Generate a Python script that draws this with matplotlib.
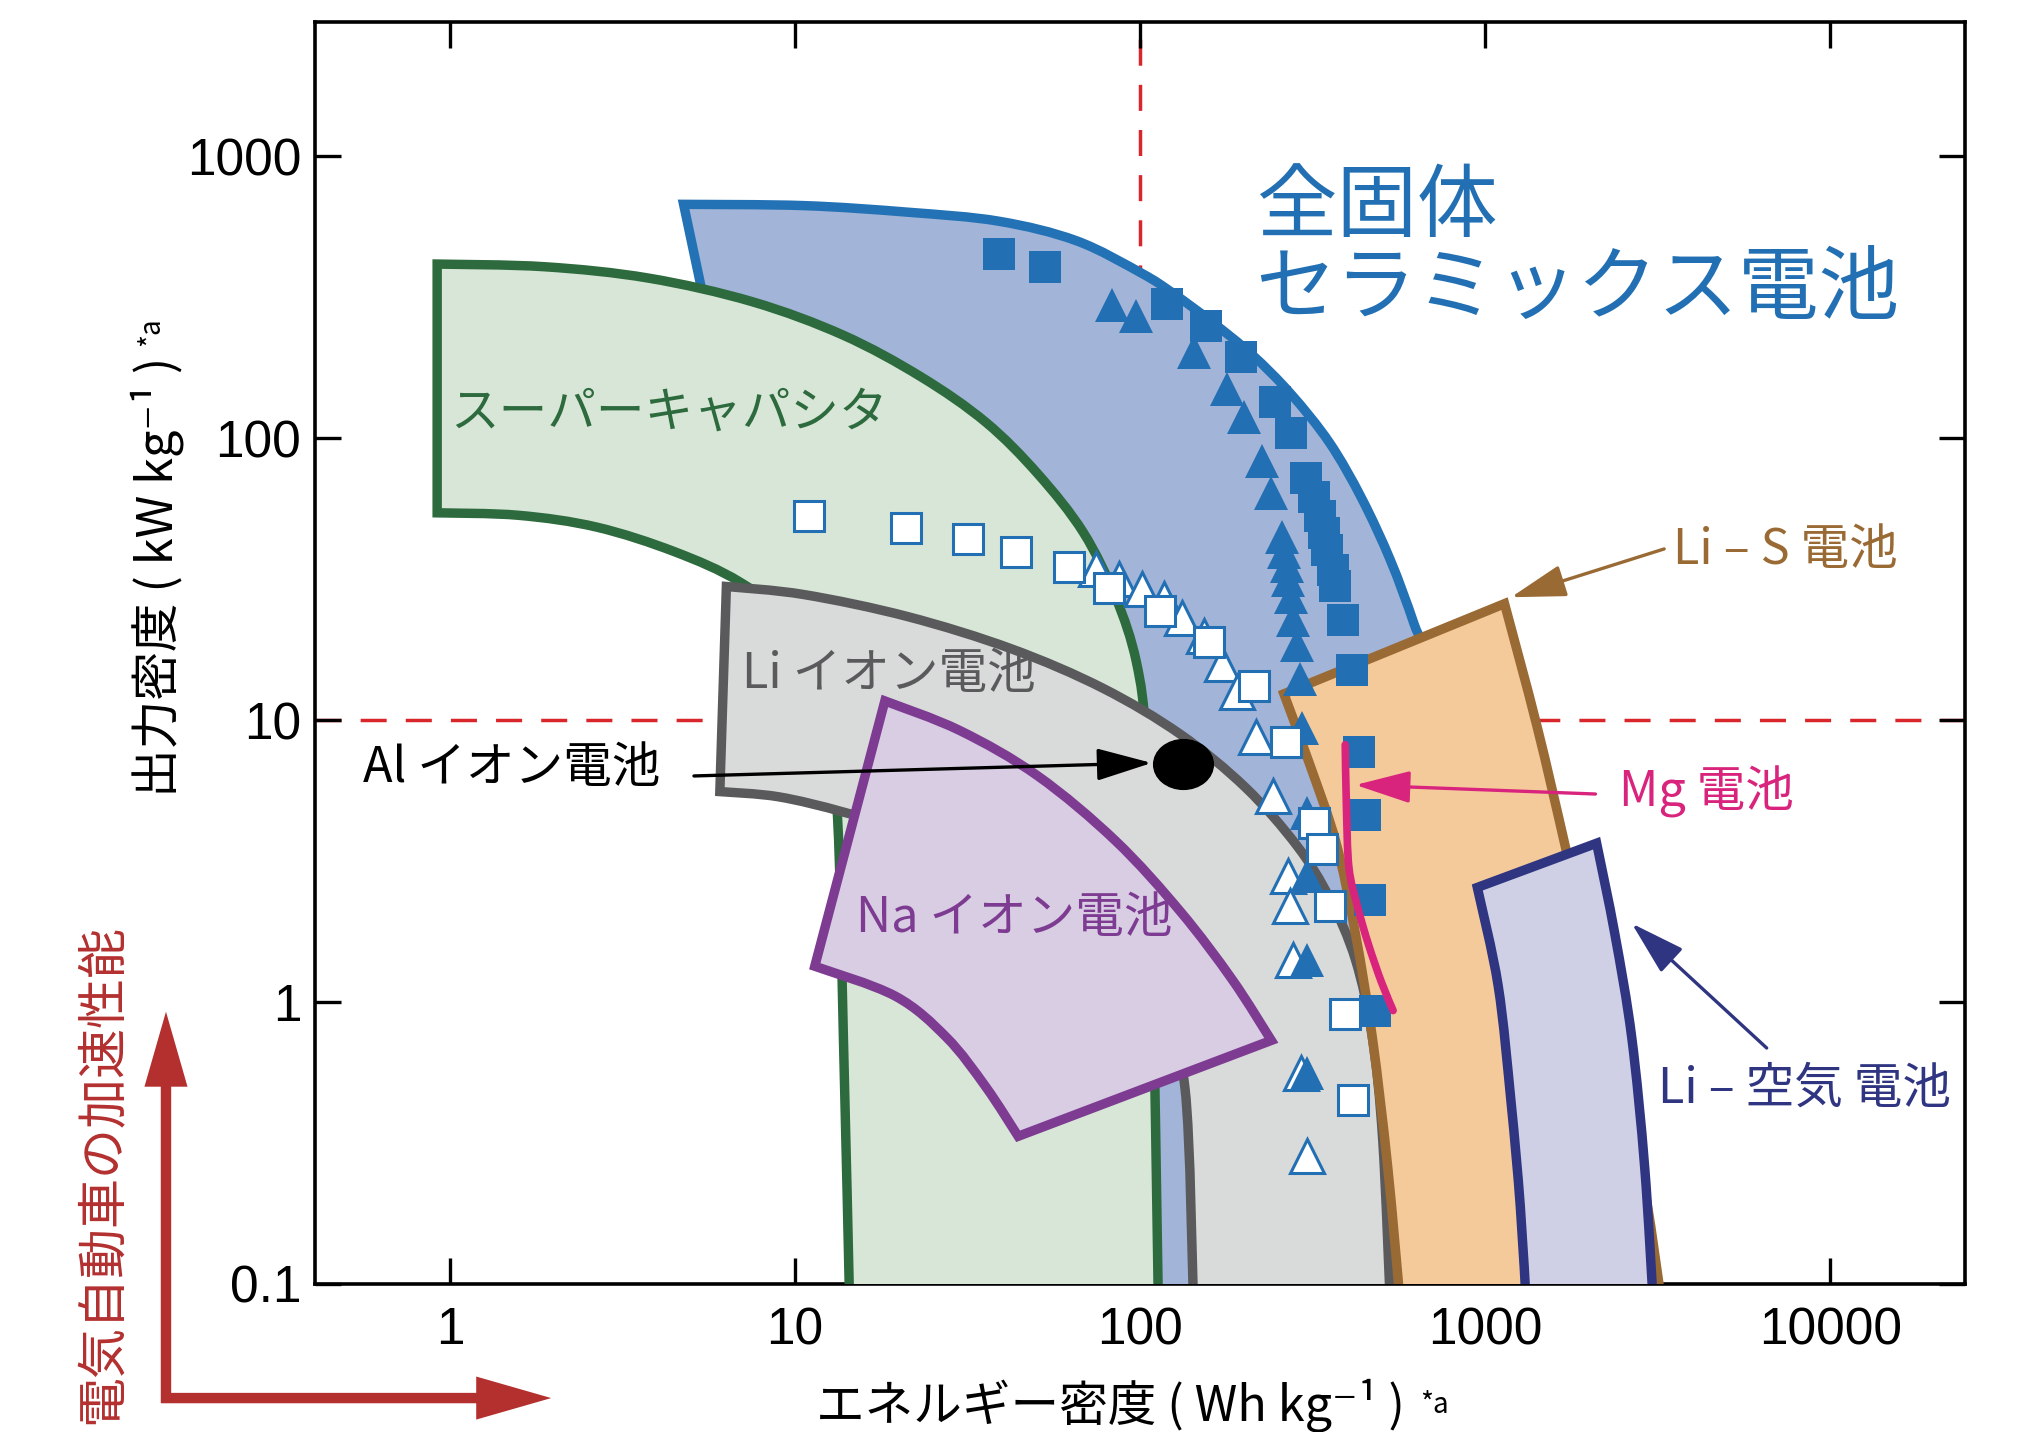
import numpy as np
import matplotlib.pyplot as plt
from matplotlib.ticker import NullLocator
from matplotlib.path import Path
from matplotlib.transforms import Affine2D
from matplotlib.patches import FancyArrowPatch, PathPatch

plt.rcParams['font.family'] = ['Noto Sans CJK JP', 'DejaVu Sans']

# Region outlines (energy density Wh/kg, power density kW/kg).
# Each region: an outer edge and an inner edge, joined by straight sides.
supercap_outer_x = [0.917, 1.88, 3.76, 7.52, 13.8, 23.2, 35.7, 50.5, 68.4, 84.9, 97.5, 104, 108, 113]
supercap_outer_y = [415, 406, 370, 305, 232, 165, 114, 74.8, 46.4, 27.3, 16.1, 8.53, 2.15, 0.08]
supercap_inner_x = [14.4, 13.8, 13.2, 11.8, 9.74, 6.89, 4.47, 2.66, 1.58, 0.917]
supercap_inner_y = [0.08, 0.748, 5.03, 13.0, 22.1, 31.0, 39.6, 48.4, 53.3, 54.4]

ceramic_outer_x = [4.75, 10.6, 21.2, 38.9, 65.4, 101, 125, 162, 211, 273, 354, 439, 532, 621, 689, 771, 841]
ceramic_outer_y = [676, 669, 634, 589, 502, 385, 326, 258, 198, 144, 96.4, 61.1, 36.8, 22.1, 14.5, 3.66, 0.08]
ceramic_inner_x = [105, 92.5, 74.5, 52.7, 32.7, 17.9, 8.93, 5.41]
ceramic_inner_y = [0.08, 2.15, 11.7, 33.8, 78.8, 165, 253, 319]

liion_outer_x = [6.32, 10.6, 21.2, 42.4, 77.8, 131, 202, 285, 354, 421, 471, 505, 532]
liion_outer_y = [29.8, 27.9, 23.3, 17.9, 13.0, 8.90, 5.77, 3.58, 2.34, 1.41, 0.748, 0.321, 0.08]
liion_inner_x = [143, 135, 115, 77.8, 42.4, 21.2, 13.8, 8.93, 6.05]
liion_inner_y = [0.08, 0.49, 0.831, 1.57, 2.66, 3.98, 4.72, 5.35, 5.58]

naion_outer_x = [18.2, 30.0, 50.5, 84.9, 131, 185, 240]
naion_outer_y = [11.7, 9.19, 6.34, 3.73, 2.09, 1.20, 0.731]
naion_inner_x = [44.3, 35.7, 27.5, 19.5, 11.4]
naion_inner_y = [0.334, 0.500, 0.748, 1.05, 1.34]

lis_outer_x = [1138, 1414, 1726, 2276, 2825, 3274]
lis_outer_y = [25.9, 9.49, 3.36, 0.748, 0.259, 0.08]
lis_inner_x = [570, 522, 471, 421, 370, 311, 261]
lis_inner_y = [0.08, 0.259, 0.748, 1.74, 3.66, 6.90, 12.4]

liair_outer_x = [2104, 2377, 2660, 2900, 3080]
liair_outer_y = [3.66, 1.74, 0.748, 0.259, 0.08]
liair_inner_x = [1319, 1264, 1189, 1091, 949]
liair_inner_y = [0.08, 0.189, 0.440, 1.14, 2.55]

mg_x = [393, 396, 403, 428, 459, 500, 541]
mg_y = [8.18, 5.03, 2.99, 2.15, 1.60, 1.18, 0.933]

# data points
ceramic_sq_x = [39, 53, 120, 155, 196, 246, 273, 303, 319, 333, 342, 348, 363, 366, 386, 410, 432, 447, 463, 479]
ceramic_sq_y = [450, 405, 300, 250, 194, 135, 104, 72, 62, 53, 46, 40, 34, 30, 22.6, 15.1, 7.7, 4.6, 2.3, 0.93]

ceramic_tri_x = [83, 97, 143, 179, 200, 226, 240, 257, 261, 266, 268, 273, 278, 285, 290, 295, 305, 305, 305, 305]
ceramic_tri_y = [296, 272, 202, 150, 119, 83, 64, 44.5, 39.6, 35.3, 31.4, 27.3, 22.6, 18.5, 14.0, 9.4, 4.7, 2.8, 1.41, 0.56]

liion_sq_x = [11, 21, 31.6, 43.6, 62, 81, 114, 158, 214, 264, 319, 336, 354, 393, 414]
liion_sq_y = [53, 48, 44, 39.6, 35, 29.4, 24.3, 18.9, 13.2, 8.4, 4.3, 3.5, 2.2, 0.91, 0.45]

liion_tri_x = [74.5, 87, 101, 117, 132, 153, 173, 191, 216, 242, 268, 271, 278, 293, 305]
liion_tri_y = [34.5, 31.7, 29.1, 26.8, 23.1, 19.9, 15.8, 12.6, 8.7, 5.4, 2.8, 2.2, 1.41, 0.56, 0.285]

al_x = [133]
al_y = [7.0]

ref_energy = 100
ref_power = 10

xticks = [1, 10, 100, 1000, 10000]
xtick_labels = ['1', '10', '100', '1000', '10000']
yticks = [0.1, 1, 10, 100, 1000]
ytick_labels = ['0.1', '1', '10', '100', '1000']

blue = '#2270b3'
red = '#b3302f'


def smooth(xs, ys):
    # bezier segments through the read points, worked out in log space
    p = np.log10(np.column_stack([xs, ys]))
    n = len(p)
    verts = []
    for i in range(n - 1):
        p0, p1, p2, p3 = p[max(i - 1, 0)], p[i], p[i + 1], p[min(i + 2, n - 1)]
        verts += [p1 + (p2 - p0) / 6, p2 - (p3 - p1) / 6, p2]
    return verts, [Path.CURVE4] * len(verts)


def region(ax, ox, oy, ix, iy, **kw):
    v1, c1 = smooth(ox, oy)
    v2, c2 = smooth(ix, iy)
    start = np.log10([ox[0], oy[0]])
    verts = [start] + v1 + [np.log10([ix[0], iy[0]])] + v2 + [start]
    codes = [Path.MOVETO] + c1 + [Path.LINETO] + c2 + [Path.CLOSEPOLY]
    ax.add_patch(PathPatch(Path(10 ** np.array(verts), codes), joinstyle='miter', **kw))


fig = plt.figure(figsize=(20.34, 14.32), dpi=100)
ax = fig.add_axes([0.1549, 0.1034, 0.8112, 0.8813])
ax.set_xscale('log')
ax.set_yscale('log')
ax.set_xlim(0.406, 24600)
ax.set_ylim(0.1, 3000)

# reference lines
dash = (0, (7.5, 5.5))
ax.axvline(ref_energy, color='#d9262b', lw=2.5, ls=dash, zorder=1)
ax.axhline(ref_power, color='#d9262b', lw=2.5, ls=dash, zorder=1)

# regions
elw = 6.8
region(ax, ceramic_outer_x, ceramic_outer_y, ceramic_inner_x, ceramic_inner_y,
       facecolor='#a2b4d8', edgecolor='#2372b5', lw=elw, zorder=3)
region(ax, supercap_outer_x, supercap_outer_y, supercap_inner_x, supercap_inner_y,
       facecolor='#d7e6d6', edgecolor='#2d6a3d', lw=elw, zorder=4)
region(ax, liion_outer_x, liion_outer_y, liion_inner_x, liion_inner_y,
       facecolor='#d9dada', edgecolor='#5a5a5c', lw=elw, zorder=5)
region(ax, naion_outer_x, naion_outer_y, naion_inner_x, naion_inner_y,
       facecolor='#d8cde3', edgecolor='#7d3c92', lw=elw, zorder=6)
region(ax, lis_outer_x, lis_outer_y, lis_inner_x, lis_inner_y,
       facecolor='#f4ca9a', edgecolor='#9a6a34', lw=elw, zorder=7)
region(ax, liair_outer_x, liair_outer_y, liair_inner_x, liair_inner_y,
       facecolor='#cfd0e6', edgecolor='#2f3581', lw=elw, zorder=8)

# points
ax.plot(liion_tri_x, liion_tri_y, ls='none', marker='^', ms=24, mfc='white', mec=blue, mew=2.2, zorder=10)
ax.plot(ceramic_tri_x, ceramic_tri_y, ls='none', marker='^', ms=24, color=blue, mew=0, zorder=11)
ax.plot(liion_sq_x, liion_sq_y, ls='none', marker='s', ms=22, mfc='white', mec=blue, mew=2.2, zorder=12)
ax.plot(ceramic_sq_x, ceramic_sq_y, ls='none', marker='s', ms=23, color=blue, mew=0, zorder=13)

mv, mc = smooth(mg_x, mg_y)
mg_path = Path(10 ** np.array([np.log10([mg_x[0], mg_y[0]])] + mv), [Path.MOVETO] + mc)
ax.add_patch(PathPatch(mg_path, fill=False, edgecolor='#d9247d', lw=5.5, capstyle='round', zorder=14))

ellipse = Path.unit_circle().transformed(Affine2D().scale(1.2, 1.0))
ax.plot(al_x, al_y, ls='none', marker=ellipse, ms=43, color='black', zorder=15)

# labels in the plot
ax.text(216, 655, '全固体', color=blue, fontsize=58, ha='left', va='center', zorder=20)
ax.text(216, 336, 'セラミックス電池', color=blue, fontsize=58, ha='left', va='center', zorder=20)
ax.text(1.0, 123, 'スーパーキャパシタ', color='#2d6a3d', fontsize=35, ha='left', va='center', zorder=20)
ax.text(7.0, 14.5, 'Li イオン電池', color='#5a5a5c', fontsize=35, ha='left', va='center', zorder=20)
ax.text(0.56, 6.76, 'Al イオン電池', color='black', fontsize=35, ha='left', va='center', zorder=20)
ax.text(15.0, 1.98, 'Na イオン電池', color='#7d3c92', fontsize=35, ha='left', va='center', zorder=20)
ax.text(3510, 40, 'Li – S 電池', color='#9a6a34', fontsize=35, ha='left', va='center', zorder=20)
ax.text(2440, 5.58, 'Mg 電池', color='#d9247d', fontsize=35, ha='left', va='center', zorder=20)
ax.text(3162, 0.49, 'Li – 空気 電池', color='#2f3581', fontsize=35, ha='left', va='center', zorder=20)


def pointer(tip, tail, color):
    ax.annotate('', xy=tip, xytext=tail, zorder=20,
                arrowprops=dict(arrowstyle='-|>,head_length=1.7,head_width=0.5', mutation_scale=20,
                                color=color, lw=2.4, shrinkA=0, shrinkB=0))


pointer((108, 7.05), (5.09, 6.34), 'black')
pointer((1189, 27.3), (3303, 40.5), '#9a6a34')
pointer((421, 5.89), (2088, 5.47), '#d9247d')
pointer((2660, 1.90), (6546, 0.687), '#2f3581')

# axes styling
ax.set_xticks(xticks, xtick_labels)
ax.set_yticks(yticks, ytick_labels)
ax.xaxis.set_minor_locator(NullLocator())
ax.yaxis.set_minor_locator(NullLocator())
ax.tick_params(direction='in', top=True, right=True, length=19, width=2.4,
               labelsize=37, labelfontfamily='Liberation Sans')
ax.tick_params(axis='x', pad=16)
ax.tick_params(axis='y', pad=10)
for s in ax.spines.values():
    s.set_linewidth(2.6)

xl = ax.set_xlabel('エネルギー密度 ( Wh kg⁻¹ )', fontsize=35)
yl = ax.set_ylabel('出力密度 ( kW kg⁻¹ )', fontsize=35, labelpad=2)
ax.xaxis.set_label_coords(0.482, -0.075)
ax.yaxis.label.set_y(0.56)
ax.annotate('*a', xy=(1, 1), xycoords=xl, xytext=(11, -8), textcoords='offset points',
            fontsize=20, ha='left', va='top')
ax.annotate('*a', xy=(0, 1), xycoords=yl, xytext=(4, 8), textcoords='offset points',
            fontsize=20, ha='left', va='bottom', rotation=90)

# acceleration arrows outside the axes
arr = 'simple,head_length=54,head_width=31,tail_width=7.5'
fig.add_artist(FancyArrowPatch((0.0816, 0.0203), (0.0816, 0.2935), transform=fig.transFigure,
                               arrowstyle=arr, mutation_scale=1, color=red, lw=0,
                               shrinkA=0, shrinkB=0))
fig.add_artist(FancyArrowPatch((0.0792, 0.0237), (0.2710, 0.0237), transform=fig.transFigure,
                               arrowstyle=arr, mutation_scale=1, color=red, lw=0,
                               shrinkA=0, shrinkB=0))
fig.text(0.051, 0.180, '電気自動車の加速性能', rotation=90, color=red, fontsize=36,
         ha='center', va='center')

fig.savefig('out.png', dpi=100)
